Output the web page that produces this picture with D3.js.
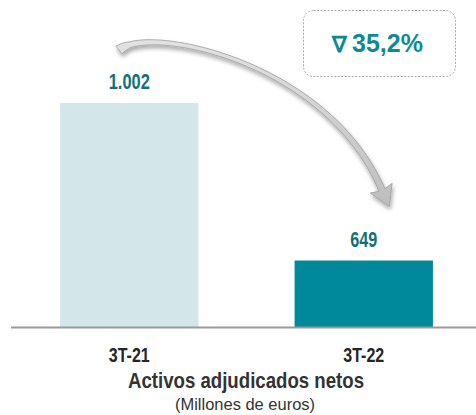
<!DOCTYPE html>
<html>
<head>
<meta charset="utf-8">
<script src="https://d3js.org/d3.v7.min.js"></script>
<style>
body { margin: 0; background: #fff; }
</style>
</head>
<body>
<div id="chart"></div>
<script>
var categories = ["3T-21", "3T-22"];
var values = [1002, 649];
var valueLabels = ["1.002", "649"];
var barColors = ["#d3e7ea", "#00899a"];
var changeLabel = "35,2%";
var title = "Activos adjudicados netos";
var subtitle = "(Millones de euros)";

var W = 476, H = 415;
var narrow = "'Liberation Sans Narrow', 'Arial Narrow', 'Liberation Sans', Arial, sans-serif";
var svg = d3.select("#chart").append("svg")
    .attr("width", W)
    .attr("height", H);

var defs = svg.append("defs");
var shadow = defs.append("filter").attr("id", "shadow")
    .attr("x", "-20%").attr("y", "-20%").attr("width", "140%").attr("height", "140%");
shadow.append("feGaussianBlur").attr("in", "SourceAlpha").attr("stdDeviation", 2).attr("result", "b");
shadow.append("feOffset").attr("in", "b").attr("dx", 1).attr("dy", 3).attr("result", "o");
shadow.append("feComponentTransfer").attr("in", "o").attr("result", "s")
    .append("feFuncA").attr("type", "linear").attr("slope", 0.35);
var merge = shadow.append("feMerge");
merge.append("feMergeNode").attr("in", "s");
merge.append("feMergeNode").attr("in", "SourceGraphic");

var grad = defs.append("linearGradient").attr("id", "arrowGrad")
    .attr("x1", 0).attr("y1", 0).attr("x2", 0).attr("y2", 1);
grad.append("stop").attr("offset", "0%").attr("stop-color", "#e2e2e2");
grad.append("stop").attr("offset", "100%").attr("stop-color", "#bdbdbd");

var baseY = 327;
var x = d3.scaleBand()
    .domain(categories)
    .range([12, 481])
    .paddingInner(0.41)
    .paddingOuter(0.205);

var y = d3.scaleLinear()
    .domain([500, 1002])
    .range([baseY, 103]);

// bars
svg.selectAll(".bar")
    .data(values)
    .enter().append("rect")
    .attr("class", "bar")
    .attr("x", function(d, i) { return x(categories[i]); })
    .attr("y", function(d) { return y(d); })
    .attr("width", x.bandwidth())
    .attr("height", function(d) { return baseY - y(d); })
    .style("fill", function(d, i) { return barColors[i]; });

// value labels (condensed look via textLength)
var valWidths = [41, 27];
svg.selectAll(".val")
    .data(values)
    .enter().append("text")
    .attr("class", "val")
    .attr("x", function(d, i) { return x(categories[i]) + x.bandwidth() / 2; })
    .attr("y", function(d) { return y(d) - 14; })
    .attr("text-anchor", "middle")
    .attr("textLength", function(d, i) { return valWidths[i]; })
    .attr("lengthAdjust", "spacingAndGlyphs")
    .style("font-family", narrow)
    .style("font-weight", "bold")
    .style("font-size", "22px")
    .style("fill", "#136f79")
    .text(function(d, i) { return valueLabels[i]; });

// baseline axis
svg.append("line")
    .attr("x1", 11).attr("x2", 476)
    .attr("y1", baseY + 0.5).attr("y2", baseY + 0.5)
    .style("stroke", "#9a9a9a")
    .style("stroke-width", 2);

// category labels
svg.selectAll(".cat")
    .data(categories)
    .enter().append("text")
    .attr("class", "cat")
    .attr("x", function(d) { return x(d) + x.bandwidth() / 2; })
    .attr("y", 362)
    .attr("text-anchor", "middle")
    .attr("textLength", 41)
    .attr("lengthAdjust", "spacingAndGlyphs")
    .style("font-family", narrow)
    .style("font-weight", "bold")
    .style("font-size", "20px")
    .style("fill", "#262626")
    .text(function(d) { return d; });

svg.append("text")
    .attr("x", 246).attr("y", 388)
    .attr("text-anchor", "middle")
    .attr("textLength", 236)
    .attr("lengthAdjust", "spacingAndGlyphs")
    .style("font-family", narrow)
    .style("font-weight", "bold")
    .style("font-size", "22px")
    .style("fill", "#333")
    .text(title);

svg.append("text")
    .attr("x", 245).attr("y", 410)
    .attr("text-anchor", "middle")
    .attr("textLength", 140)
    .attr("lengthAdjust", "spacingAndGlyphs")
    .style("font-family", narrow)
    .style("font-size", "17px")
    .style("fill", "#333")
    .text(subtitle);

// curved arrow from first bar to second
var p0 = [119, 50], c1 = [150, 24], c2 = [328, 62], p3 = [382, 190];
function bez(t) {
    var u = 1 - t;
    return [
        u*u*u*p0[0] + 3*u*u*t*c1[0] + 3*u*t*t*c2[0] + t*t*t*p3[0],
        u*u*u*p0[1] + 3*u*u*t*c1[1] + 3*u*t*t*c2[1] + t*t*t*p3[1]
    ];
}
function halfW(t) {
    if (t < 0.08) return 5 - t * 22;
    return 3.3 - 1.3 * Math.sin(Math.PI * t);
}
var left = [], right = [];
var N = 60;
for (var i = 0; i <= N; i++) {
    var t = i / N;
    var a = bez(Math.max(0, t - 0.01)), b = bez(Math.min(1, t + 0.01));
    var dx = b[0] - a[0], dy = b[1] - a[1], len = Math.sqrt(dx*dx + dy*dy);
    var nx = -dy / len, ny = dx / len;
    var p = bez(t), w = halfW(t);
    left.push([p[0] + nx * w, p[1] + ny * w]);
    right.push([p[0] - nx * w, p[1] - ny * w]);
}
var e1 = bez(0.98), dx = p3[0] - e1[0], dy = p3[1] - e1[1];
var dl = Math.sqrt(dx*dx + dy*dy); dx /= dl; dy /= dl;
var nx = -dy, ny = dx;
var tip = [p3[0] + dx * 18, p3[1] + dy * 18];
var barbL = [p3[0] + nx * 12 - dx * 2, p3[1] + ny * 12 - dy * 2];
var barbR = [p3[0] - nx * 12 - dx * 2, p3[1] - ny * 12 - dy * 2];
var pts = left.slice();
pts.push(barbL, tip, barbR);
pts = pts.concat(right.slice().reverse());

svg.append("path")
    .attr("d", d3.line()(pts) + "Z")
    .attr("filter", "url(#shadow)")
    .style("fill", "url(#arrowGrad)")
    .style("stroke", "#9c9c9c")
    .style("stroke-width", 0.8)
    .style("stroke-linejoin", "round");

// change box
svg.append("rect")
    .attr("x", 303.5).attr("y", 10.5)
    .attr("width", 152).attr("height", 66)
    .attr("rx", 10)
    .style("fill", "#fff")
    .style("stroke", "#a8a8a8")
    .style("stroke-dasharray", "2,1.5")
    .style("stroke-width", 1);

var boxText = svg.append("text")
    .attr("x", 332).attr("y", 52)
    .style("font-family", "'Liberation Sans', Arial, sans-serif")
    .style("font-weight", "bold")
    .style("fill", "#0d8a96");
boxText.append("tspan")
    .style("font-size", "22px")
    .text("\u2207");
boxText.append("tspan")
    .attr("dx", 5)
    .style("font-size", "25px")
    .text(changeLabel);
</script>
</body>
</html>
